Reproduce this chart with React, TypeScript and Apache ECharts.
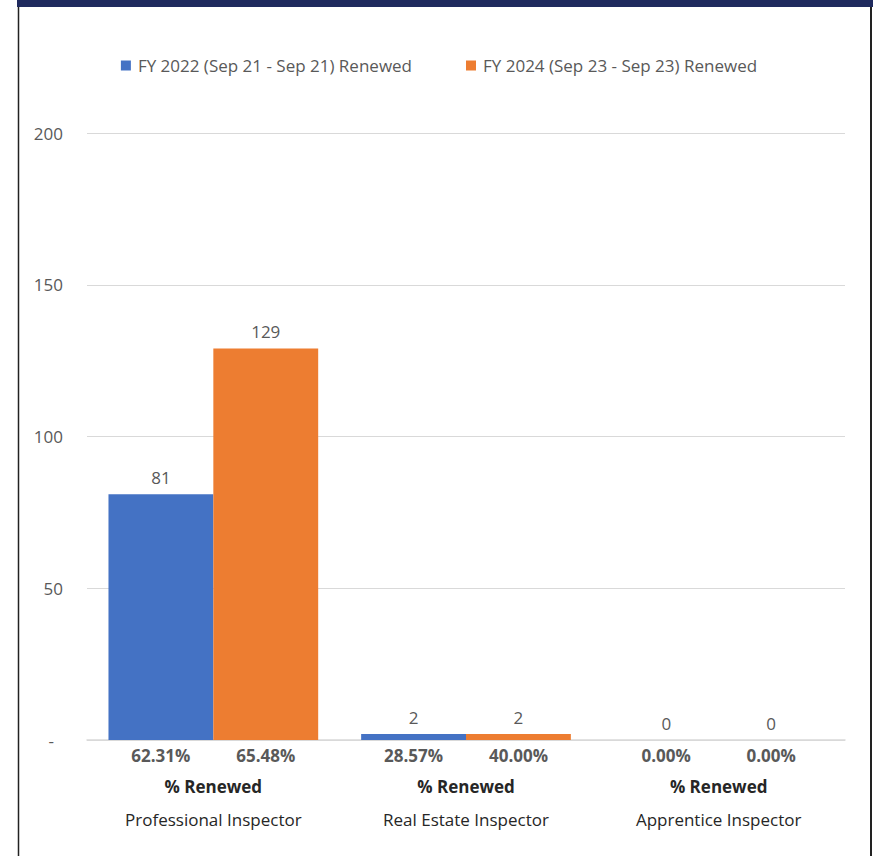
import React, { useEffect, useRef } from "react";
import * as echarts from "echarts";

const categories = ["Professional Inspector", "Real Estate Inspector", "Apprentice Inspector"];
const seriesNames = ["FY 2022 (Sep 21 - Sep 21) Renewed", "FY 2024 (Sep 23 - Sep 23) Renewed"];
const renewed2022 = [81, 2, 0];
const renewed2024 = [129, 2, 0];
const pct2022 = ["62.31%", "28.57%", "0.00%"];
const pct2024 = ["65.48%", "40.00%", "0.00%"];
const subLabel = "% Renewed";
const yTicks = [0, 50, 100, 150, 200];

const FONT = "'Open Sans', 'Noto Sans', sans-serif";

export default function App() {
  const ref = useRef<HTMLDivElement>(null);
  useEffect(() => {
    document.body.style.margin = "0";
    const chart = echarts.init(ref.current!, null, { renderer: "svg" });
    chart.setOption({
      animation: false,
      backgroundColor: "#ffffff",
      textStyle: { fontFamily: FONT },
      legend: {
        top: 52,
        left: "center",
        itemWidth: 10,
        itemHeight: 10,
        itemGap: 54,
        icon: "rect",
        textStyle: { fontSize: 17, color: "#595959", fontFamily: FONT, padding: [0, 0, 0, 2] },
        data: seriesNames,
      },
      grid: { left: 87, right: 33, top: 133, bottom: 116 },
      xAxis: {
        type: "category",
        data: categories,
        axisLine: { lineStyle: { color: "#d9d9d9", width: 1.5 } },
        axisTick: { show: false },
        axisLabel: {
          interval: 0,
          margin: 4,
          formatter: (v: string, i: number) =>
            `{p|${pct2022[i]}}{p|${pct2024[i]}}\n{r|${subLabel}}\n{n|${v}}`,
          rich: {
            p: { width: 105, align: "center", fontSize: 17, fontWeight: "bold", color: "#595959", lineHeight: 22, fontFamily: FONT },
            r: { fontSize: 17, fontWeight: "bold", color: "#262626", lineHeight: 40, fontFamily: FONT },
            n: { fontSize: 17, color: "#262626", lineHeight: 26, fontFamily: FONT },
          },
        },
      },
      yAxis: {
        type: "value",
        min: yTicks[0],
        max: yTicks[yTicks.length - 1],
        interval: 50,
        axisLine: { show: false },
        axisTick: { show: false },
        splitLine: { lineStyle: { color: "#d9d9d9", width: 1 } },
        axisLabel: {
          margin: 24,
          fontSize: 17,
          color: "#595959",
          fontFamily: FONT,
          formatter: (v: number) => (v === 0 ? "{z|-}" : String(v)),
          rich: { z: { fontSize: 17, color: "#595959", padding: [0, 9, 0, 0], fontFamily: FONT } },
        },
      },
      series: [
        {
          name: seriesNames[0],
          type: "bar",
          data: renewed2022,
          barGap: "0%",
          barCategoryGap: "17%",
          itemStyle: { color: "#4472C4" },
          label: { show: true, position: "top", distance: 8, fontSize: 17, color: "#595959", fontFamily: FONT },
        },
        {
          name: seriesNames[1],
          type: "bar",
          data: renewed2024,
          barGap: "0%",
          barCategoryGap: "17%",
          itemStyle: { color: "#ED7D31" },
          label: { show: true, position: "top", distance: 8, fontSize: 17, color: "#595959", fontFamily: FONT },
        },
      ],
      graphic: [
        { type: "rect", shape: { x: 17, y: 0, width: 856, height: 7 }, style: { fill: "#1F2A5E" } },
        { type: "line", shape: { x1: 18.5, y1: 7, x2: 18.5, y2: 856 }, style: { stroke: "#222222", lineWidth: 1.5 } },
        { type: "line", shape: { x1: 871, y1: 7, x2: 871, y2: 856 }, style: { stroke: "#222222", lineWidth: 2 } },
      ],
    });
    return () => chart.dispose();
  }, []);
  return <div ref={ref} style={{ position: "fixed", left: 0, top: 0, width: 878, height: 856 }} />;
}
